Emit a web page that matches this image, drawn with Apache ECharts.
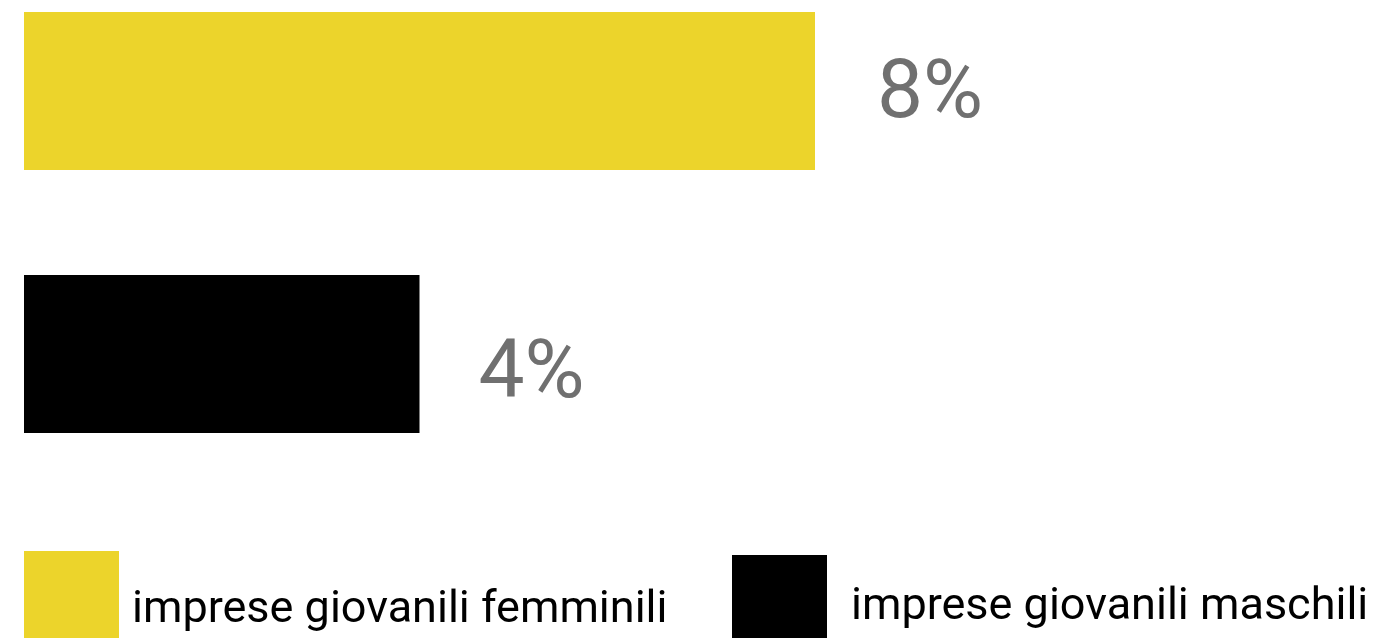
<!DOCTYPE html>
<html>
<head>
<meta charset="utf-8">
<style>
  html, body { margin: 0; padding: 0; background: #ffffff; }
  #chart { width: 1376px; height: 638px; }
</style>
<script src="https://cdn.jsdelivr.net/npm/echarts@6/dist/echarts.min.js"></script>
</head>
<body>
<div id="chart"></div>
<script>
// Share of youth enterprises, by gender of the owners
const categories = ['femminili', 'maschili'];
const seriesNames = ['imprese giovanili femminili', 'imprese giovanili maschili'];
const femaleValues = [8, '-'];
const maleValues = ['-', 4];
const colors = ['#ECD42B', '#000000'];

const chart = echarts.init(document.getElementById('chart'));

const labelBase = {
  show: true,
  position: 'right',
  fontFamily: 'Roboto',
  fontSize: 82,
  color: '#707070',
  formatter: p => p.value + '%'
};

chart.setOption({
  animation: false,
  backgroundColor: '#ffffff',
  textStyle: { fontFamily: 'Roboto' },
  grid: { left: 24, width: 791, top: 91, height: 263, containLabel: false },
  xAxis: {
    type: 'value', min: 0, max: 8,
    show: false
  },
  yAxis: {
    type: 'category', data: categories, inverse: true,
    boundaryGap: false, show: false
  },
  legend: [
    {
      data: [seriesNames[0]], left: 24, top: 551, padding: 0,
      itemWidth: 95, itemHeight: 120, icon: 'rect',
      textStyle: { fontFamily: 'Roboto', fontSize: 45, color: '#000', padding: [0, 0, 0, 8] }
    },
    {
      data: [seriesNames[1]], left: 732, top: 555, padding: 0,
      itemWidth: 95, itemHeight: 106, icon: 'rect',
      textStyle: { fontFamily: 'Roboto', fontSize: 45, color: '#000', padding: [0, 0, 0, 19] }
    }
  ],
  series: [
    {
      name: seriesNames[0], type: 'bar', stack: 'share', barWidth: 158,
      itemStyle: { color: colors[0] },
      label: Object.assign({}, labelBase, { distance: 62, offset: [0, 5] }),
      data: femaleValues
    },
    {
      name: seriesNames[1], type: 'bar', stack: 'share', barWidth: 160,
      itemStyle: { color: colors[1] },
      label: Object.assign({}, labelBase, { distance: 59, offset: [0, 22] }),
      data: maleValues
    }
  ]
});
</script>
</body>
</html>
